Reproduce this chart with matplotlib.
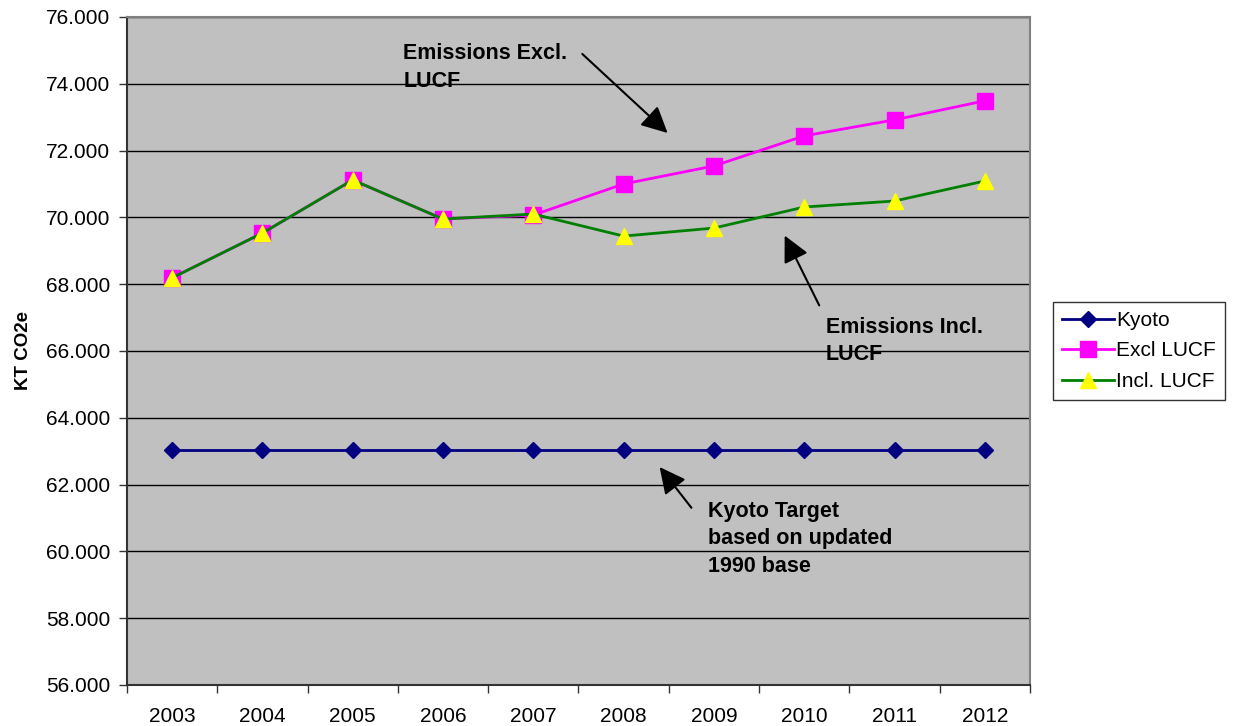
import matplotlib.pyplot as plt
from matplotlib.ticker import FuncFormatter, FixedLocator

# ==============================
# Data
# ==============================
years = ["2003", "2004", "2005", "2006", "2007", "2008", "2009", "2010", "2011", "2012"]
kyoto = [63.03] * 10
excl_lucf = [68.19, 69.53, 71.12, 69.95, 70.07, 71.00, 71.54, 72.44, 72.92, 73.49]
incl_lucf = [68.19, 69.53, 71.12, 69.95, 70.10, 69.44, 69.68, 70.31, 70.49, 71.09]

plt.rcParams["font.family"] = ["Liberation Sans", "DejaVu Sans"]

# ==============================
# Figure
# ==============================
fig = plt.figure(figsize=(12.36, 7.26), dpi=100)
ax = fig.add_axes([0.1027, 0.0565, 0.7306, 0.9201])
ax.set_facecolor("#C0C0C0")

x = list(range(len(years)))

ax.plot(x, kyoto, color="#000080", lw=2, marker="D", ms=8,
        mfc="#000080", mec="#000080", label="Kyoto", zorder=3)
ax.plot(x, excl_lucf, color="#FF00FF", lw=2, marker="s", ms=11,
        mfc="#FF00FF", mec="#FF00FF", label="Excl LUCF", zorder=4)
ax.plot(x, incl_lucf, color="#008000", lw=2, marker="^", ms=11,
        mfc="#FFFF00", mec="#FFFF00", label="Incl. LUCF", zorder=5)

# axes
ax.set_xlim(-0.5, len(years) - 0.5)
ax.set_ylim(56, 76)
ax.set_yticks(range(56, 77, 2))
ax.yaxis.set_major_formatter(FuncFormatter(lambda v, p: f"{int(v)}.000"))
ax.set_xticks(x)
ax.set_xticklabels(years)
ax.xaxis.set_minor_locator(FixedLocator([i - 0.5 for i in range(len(years) + 1)]))
ax.tick_params(axis="x", which="major", length=0, labelsize=15, pad=16)
ax.tick_params(axis="x", which="minor", length=6, width=1, color="#333333")
ax.tick_params(axis="y", length=6, width=1, color="#333333", labelsize=15, pad=6)
ax.grid(True, axis="y", color="black", lw=1)
ax.set_axisbelow(True)

for side in ["left", "bottom"]:
    ax.spines[side].set_color("#333333")
    ax.spines[side].set_linewidth(1.5)
for side in ["top", "right"]:
    ax.spines[side].set_color("#808080")
    ax.spines[side].set_linewidth(1.5)

ax.set_ylabel("KT CO2e", fontsize=13.5, fontweight="bold", labelpad=10)

# annotations
arrow = dict(arrowstyle="-|>,head_length=1.6,head_width=0.8", color="black", lw=1.5)
ax.annotate("", xy=(5.51, 72.47), xytext=(4.52, 74.95), arrowprops=arrow)
ax.annotate("", xy=(6.77, 69.53), xytext=(7.18, 67.29), arrowprops=arrow)
ax.annotate("", xy=(5.38, 62.59), xytext=(5.77, 61.24), arrowprops=arrow)

txt = dict(fontsize=15.5, fontweight="bold", va="top", ha="left", linespacing=1.42)
ax.text(2.56, 75.22, "Emissions Excl.\nLUCF", **txt)
ax.text(7.24, 67.03, "Emissions Incl.\nLUCF", **txt)
ax.text(5.94, 61.52, "Kyoto Target\nbased on updated\n1990 base", **txt)

leg = ax.legend(loc="center left", bbox_to_anchor=(1.025, 0.5), fontsize=15,
                frameon=True, fancybox=False, edgecolor="black",
                handlelength=2.5, handletextpad=0.1, borderpad=0.45,
                labelspacing=0.55, borderaxespad=0)
leg.get_frame().set_linewidth(1)

plt.savefig("out.png", dpi=100)
